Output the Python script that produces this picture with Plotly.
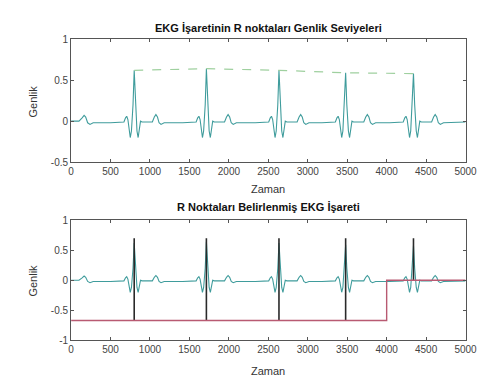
import plotly.graph_objects as go

# ---------------- data ----------------
r_positions = [800, 1715, 2635, 3480, 4340]
r_amplitudes = [0.62, 0.64, 0.62, 0.59, 0.58]

# shape of one heartbeat around its R point (offset from R, value)
beat_offsets = [-300, -130, -110, -95, -80, -65, -50, -35, -15, 0, 15, 35, 50, 65, 80, 100,
                230, 255, 275, 295, 315, 340, 380]
beat_values = [-0.02, -0.01, 0.04, 0.06, 0.02, -0.08, -0.2, -0.12, 0.2, None, 0.2, -0.12, -0.2,
               -0.08, 0.0, -0.01, -0.01, 0.05, 0.08, 0.05, -0.02, -0.04, -0.02]

# signal before the first beat (tail of previous beat) and after the last beat
lead_x = [0, 100, 140, 165, 185, 210, 240, 280]
lead_y = [0.0, 0.0, 0.04, 0.07, 0.05, -0.02, -0.04, -0.02]
tail_x = [5000]
tail_y = [-0.01]

# marker signal of bottom plot
marker_peak = 0.70
step_x = [0, 4000, 4000, 5000]
step_y = [-0.67, -0.67, 0.0, 0.0]

# ---------------- build ECG series ----------------
ecg_x, ecg_y = list(lead_x), list(lead_y)
for r, a in zip(r_positions, r_amplitudes):
    for o, v in zip(beat_offsets, beat_values):
        ecg_x.append(r + o)
        ecg_y.append(a if v is None else v)
ecg_x += tail_x
ecg_y += tail_y

# marker trace: baseline (step) with spikes at R points
mk_x, mk_y = [], []
for r in r_positions:
    base = step_y[0] if r < step_x[1] else step_y[-1]
    mk_x += [r, r, r, None]
    mk_y += [base, marker_peak, base, None]

teal = '#3f9c9c'
dark = '#2a2a2a'
red = '#b85a72'
green = '#9fd09f'

fig = go.Figure()
# top
fig.add_trace(go.Scatter(x=ecg_x, y=ecg_y, mode='lines', line=dict(color=teal, width=1.1),
                         xaxis='x', yaxis='y', showlegend=False))
fig.add_trace(go.Scatter(x=r_positions, y=r_amplitudes, mode='lines',
                         line=dict(color=green, width=1.2, dash='dash'),
                         xaxis='x', yaxis='y', showlegend=False))
# bottom
fig.add_trace(go.Scatter(x=ecg_x, y=ecg_y, mode='lines', line=dict(color=teal, width=1.1),
                         xaxis='x2', yaxis='y2', showlegend=False))
fig.add_trace(go.Scatter(x=mk_x, y=mk_y, mode='lines', line=dict(color=dark, width=1.6),
                         xaxis='x2', yaxis='y2', showlegend=False))
fig.add_trace(go.Scatter(x=step_x, y=step_y, mode='lines', line=dict(color=red, width=1.4),
                         xaxis='x2', yaxis='y2', showlegend=False))

font = dict(family='Liberation Sans, Arial, sans-serif', size=10, color='#333')
xdom = [62 / 487, 469 / 487]
ax_common = dict(showline=True, linecolor='#555', linewidth=1, mirror='ticks', ticks='inside',
                 ticklen=3, tickcolor='#555', showgrid=False, zeroline=False,
                 tickfont=dict(family='Liberation Sans, Arial, sans-serif', size=10, color='#444'))
xvals = list(range(0, 5001, 500))

fig.update_layout(
    width=487, height=378, margin=dict(l=0, r=0, t=0, b=0),
    paper_bgcolor='white', plot_bgcolor='white', font=font,
    xaxis=dict(domain=xdom, range=[0, 5000], tickvals=xvals, anchor='y', **ax_common),
    yaxis=dict(domain=[1 - 153 / 378, 1 - 26 / 378], range=[-0.5, 1],
               tickvals=[-0.5, 0, 0.5, 1], ticktext=['-0.5', '0', '0.5', '1'], anchor='x', **ax_common),
    xaxis2=dict(domain=xdom, range=[0, 5000], tickvals=xvals, anchor='y2', **ax_common),
    yaxis2=dict(domain=[1 - 337 / 378, 1 - 213 / 378], range=[-1, 1],
                tickvals=[-1, -0.5, 0, 0.5, 1], ticktext=['-1', '-0.5', '0', '0.5', '1'], anchor='x2', **ax_common),
)

ann = []
tf = dict(family='Liberation Sans, Arial, sans-serif', size=11, color='#111')
lf = dict(family='Liberation Sans, Arial, sans-serif', size=11, color='#333')
cx = (xdom[0] + xdom[1]) / 2
ann.append(dict(text='<b>EKG İşaretinin R noktaları Genlik Seviyeleri</b>', x=cx, y=1 - 14 / 378,
                xref='paper', yref='paper', showarrow=False, font=tf, yanchor='middle'))
ann.append(dict(text='<b>R Noktaları Belirlenmiş EKG İşareti</b>', x=cx, y=1 - 199 / 378,
                xref='paper', yref='paper', showarrow=False, font=tf, yanchor='middle'))
ann.append(dict(text='Zaman', x=cx, y=1 - 181 / 378, xref='paper', yref='paper',
                showarrow=False, font=lf, yanchor='middle'))
ann.append(dict(text='Zaman', x=cx, y=1 - 369 / 378, xref='paper', yref='paper',
                showarrow=False, font=lf, yanchor='middle'))
ann.append(dict(text='Genlik', x=23 / 487, y=1 - 90 / 378, xref='paper', yref='paper',
                showarrow=False, font=lf, textangle=-90, xanchor='center', yanchor='middle'))
ann.append(dict(text='Genlik', x=23 / 487, y=1 - 275 / 378, xref='paper', yref='paper',
                showarrow=False, font=lf, textangle=-90, xanchor='center', yanchor='middle'))
fig.update_layout(annotations=ann)

fig.write_html('out.html')
